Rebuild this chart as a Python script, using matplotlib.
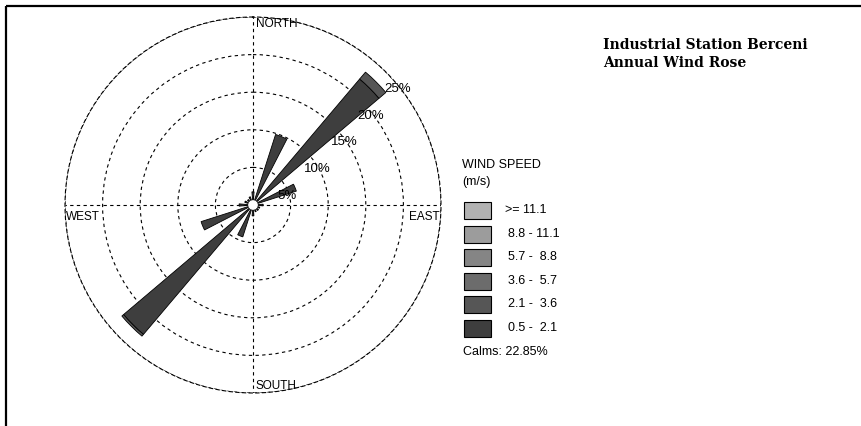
import numpy as np
import matplotlib
matplotlib.use("Agg")
import matplotlib.pyplot as plt
from matplotlib.patches import Rectangle

# 16 compass sectors, clockwise from north
directions = ["N", "NNE", "NE", "ENE", "E", "ESE", "SE", "SSE",
              "S", "SSW", "SW", "WSW", "W", "WNW", "NW", "NNW"]

# frequency (%) per sector for each wind-speed class
spd_0p5_2p1 = [1.2, 9.3, 21.4, 5.5, 0.8, 0.4, 0.4, 0.4, 0.9, 3.9, 22.0, 6.7, 1.3, 0.6, 0.4, 0.6]
spd_2p1_3p6 = [0, 0, 1.2, 0, 0, 0, 0, 0, 0, 0, 0.3, 0, 0, 0, 0, 0]
spd_3p6_5p7 = [0] * 16
spd_5p7_8p8 = [0] * 16
spd_8p8_11p1 = [0] * 16
spd_ge_11p1 = [0] * 16

speed_labels = [">= 11.1", "8.8 - 11.1", "5.7 -  8.8", "3.6 -  5.7", "2.1 -  3.6", "0.5 -  2.1"]
calms_pct = 22.85
ring_values = [5, 10, 15, 20, 25]

title_lines = ["Industrial Station Berceni", "Annual Wind Rose"]

# greys from lightest (fastest) to darkest (slowest)
class_colors = ["#b2b2b2", "#9c9c9c", "#858585", "#6c6c6c", "#565656", "#3e3e3e"]

W, H = 861, 426
fig = plt.figure(figsize=(W / 100, H / 100), dpi=100)
fig.patch.set_facecolor("white")

# full-figure pixel canvas for frame, title and legend
bg = fig.add_axes([0, 0, 1, 1])
bg.set_xlim(0, W)
bg.set_ylim(H, 0)
bg.axis("off")
bg.plot([6, W], [6, 6], color="black", lw=1.6, solid_capstyle="butt")
bg.plot([6, 6], [6, H], color="black", lw=1.6, solid_capstyle="butt")

# polar rose
cx, cy, R = 253, 205, 188
ax = fig.add_axes([(cx - R) / W, (H - cy - R) / H, 2 * R / W, 2 * R / H], projection="polar")
ax.set_theta_zero_location("N")
ax.set_theta_direction(-1)
rmax = ring_values[-1]
ax.set_ylim(0, rmax)
ax.patch.set_alpha(0)

dash = (0, (3, 3))
ax.set_rgrids(ring_values, labels=[""] * len(ring_values))
ax.set_thetagrids([0, 90, 180, 270], labels=[""] * 4)
ax.grid(True, color="black", linestyle=dash, linewidth=0.8)
ax.spines["polar"].set_linestyle(dash)
ax.spines["polar"].set_linewidth(0.8)
ax.tick_params(length=0)

theta = np.deg2rad(np.arange(16) * 22.5)
width = np.deg2rad(9.5)
calm_r = 0.55
stack = [spd_0p5_2p1, spd_2p1_3p6, spd_3p6_5p7, spd_5p7_8p8, spd_8p8_11p1, spd_ge_11p1]
bottom = np.full(16, calm_r)
for vals, col in zip(stack, class_colors[::-1]):
    vals = np.asarray(vals, dtype=float)
    mask = vals > 0
    ax.bar(theta[mask], vals[mask], width=width, bottom=bottom[mask],
           color=col, edgecolor="black", linewidth=0.6, zorder=3)
    bottom = bottom + vals

# calm circle at the centre
tt = np.linspace(0, 2 * np.pi, 100)
ax.fill(tt, np.full_like(tt, calm_r), color="white", zorder=4)

# ring percentage labels along the NE diagonal
for rv in ring_values:
    ax.annotate(f"{rv}%", xy=(np.deg2rad(45), rv), xytext=(-1.5, -8),
                textcoords="offset points", ha="left", va="top",
                fontsize=9.5, family="Liberation Sans", zorder=5)

# cardinal labels
card = dict(fontsize=8.5, family="Liberation Sans", zorder=5)
ax.annotate("NORTH", xy=(0, rmax), xytext=(2, -1), textcoords="offset points", ha="left", va="top", **card)
ax.annotate("SOUTH", xy=(np.pi, rmax), xytext=(2, 1), textcoords="offset points", ha="left", va="bottom", **card)
ax.annotate("WEST", xy=(1.5 * np.pi, rmax), xytext=(1, -4.5), textcoords="offset points", ha="left", va="top", **card)
ax.annotate("EAST", xy=(0.5 * np.pi, rmax), xytext=(-1, -4.5), textcoords="offset points", ha="right", va="top", **card)

# title block
bg.text(603, 45, title_lines[0], ha="left", va="center", fontsize=10,
        fontweight="bold", family="DejaVu Serif")
bg.text(603, 63, title_lines[1], ha="left", va="center", fontsize=10,
        fontweight="bold", family="DejaVu Serif")

# legend
lf = dict(fontsize=9, family="Liberation Sans")
bg.text(462, 165, "WIND SPEED", ha="left", va="center", **lf)
bg.text(462, 182, "(m/s)", ha="left", va="center", **lf)
row_y = [210, 234, 257, 281, 304, 328]
for i, (lab, col) in enumerate(zip(speed_labels, class_colors)):
    y = row_y[i]
    bg.add_patch(Rectangle((464, y - 8.5), 27, 17, facecolor=col, edgecolor="black", linewidth=0.8))
    bg.text(505 if i == 0 else 508, y, lab, ha="left", va="center", **lf)
bg.text(463, 352, f"Calms: {calms_pct:.2f}%", ha="left", va="center", **lf)

fig.savefig("out.png", dpi=100, facecolor="white")
